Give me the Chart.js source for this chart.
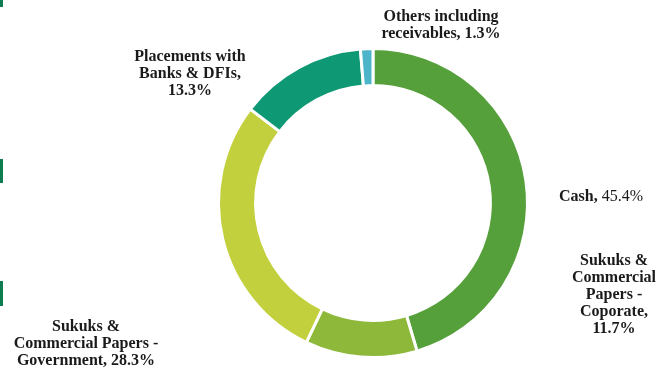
<!DOCTYPE html>
<html>
<head>
<meta charset="utf-8">
<script src="https://cdn.jsdelivr.net/npm/chart.js@4"></script>
<style>
  html, body { margin: 0; padding: 0; background: #fff; }
  #wrap { position: relative; width: 668px; height: 387px; }
  .tab { position: absolute; left: 0; width: 3px; background: #0b7d4e; }
</style>
</head>
<body>
<div id="wrap">
  <canvas id="chartMix" width="668" height="387"></canvas>
  <div class="tab" style="top:0;height:7px"></div>
  <div class="tab" style="top:159px;height:24px"></div>
  <div class="tab" style="top:281px;height:25px"></div>
</div>
<script>
var categories = [
    "Cash",
    "Sukuks & Commercial Papers - Coporate",
    "Sukuks & Commercial Papers - Government",
    "Placements with Banks & DFIs",
    "Others including receivables"
];
var shares = [45.4, 11.7, 28.3, 13.3, 1.3];
var colours = ['#55a03a', '#8db83a', '#c3d03d', '#0f9874', '#4db5c9'];

// where each label goes and how many words sit on each line
var labelLayout = [
    { x: 601, y: 197, words: [3], plainValue: true },
    { x: 614, y: 261, words: [2, 1, 2, 1, 1] },
    { x: 86, y: 327, words: [2, 3, 2] },
    { x: 190, y: 57, words: [2, 3, 1] },
    { x: 441, y: 17, words: [2, 2] }
];

var boldFont = 'bold 16px "Liberation Serif", serif';
var plainFont = '16px "Liberation Serif", serif';

var outsideLabels = {
    id: 'outsideLabels',
    afterDraw: function(chart) {
        var ctx = chart.ctx;
        ctx.save();
        ctx.fillStyle = '#1a1a1a';
        ctx.textBaseline = 'middle';
        for (var i = 0; i < categories.length; i++) {
            var lay = labelLayout[i];
            var pct = shares[i].toFixed(1) + '%';
            var words = (categories[i] + ',').split(' ').concat([pct]);
            var pos = 0;
            for (var l = 0; l < lay.words.length; l++) {
                var line = words.slice(pos, pos + lay.words[l]);
                pos += lay.words[l];
                var y = lay.y + l * 17;
                if (lay.plainValue && line[line.length - 1] === pct) {
                    // category bold, value regular
                    var head = line.slice(0, -1).join(' ') + ' ';
                    ctx.font = boldFont;
                    var w1 = ctx.measureText(head).width;
                    ctx.font = plainFont;
                    var w2 = ctx.measureText(pct).width;
                    var x0 = lay.x - (w1 + w2) / 2;
                    ctx.textAlign = 'left';
                    ctx.font = boldFont;
                    ctx.fillText(head, x0, y);
                    ctx.font = plainFont;
                    ctx.fillText(pct, x0 + w1, y);
                } else {
                    ctx.textAlign = 'center';
                    ctx.font = boldFont;
                    ctx.fillText(line.join(' '), lay.x, y);
                }
            }
        }
        ctx.restore();
    }
};

var chartMix = new Chart(document.getElementById("chartMix"), {
    type: 'doughnut',
    data: {
        labels: categories,
        datasets: [{
            data: shares,
            backgroundColor: colours,
            borderColor: '#ffffff',
            borderWidth: 3,
            hoverOffset: 0
        }]
    },
    options: {
        responsive: false,
        animation: false,
        cutout: '76%',
        layout: {
            padding: { top: 47, bottom: 28, left: 192, right: 114 }
        },
        plugins: {
            legend: { display: false },
            tooltip: { enabled: false }
        }
    },
    plugins: [outsideLabels]
});
</script>
</body>
</html>
